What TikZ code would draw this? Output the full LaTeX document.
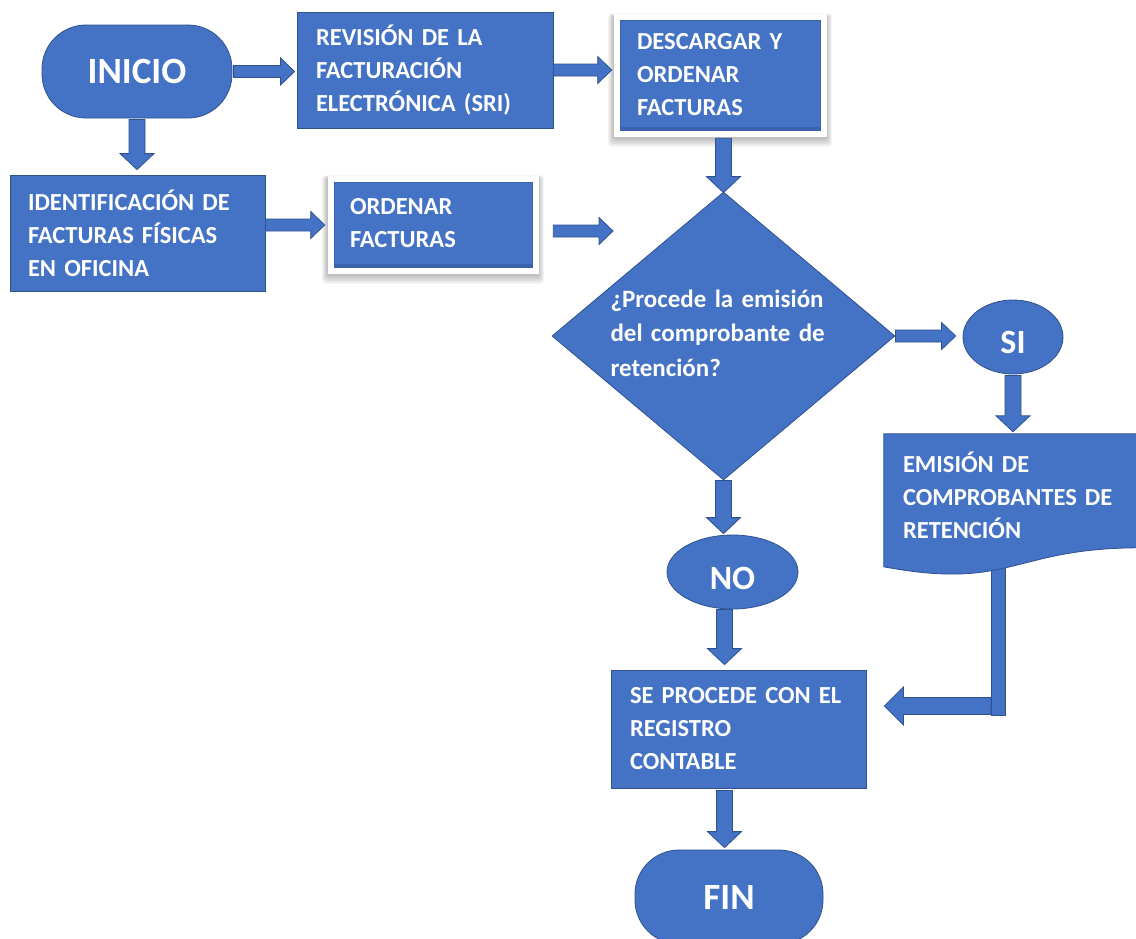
\documentclass[tikz,border=0pt]{standalone}
\usepackage{fontspec}
\setmainfont{Carlito}
\usetikzlibrary{shapes.geometric,calc}
\definecolor{boxblue}{HTML}{4472C4}
\definecolor{edgeblue}{HTML}{2F528F}
\definecolor{bevelcol}{HTML}{3A62AE}
\pgfdeclarelayer{bg}
\pgfsetlayers{bg,main}
\newcommand{\softshadow}[1]{%
  \begin{pgfonlayer}{bg}
    \foreach \i in {0,1.5,...,7.5}{
      \fill[black, opacity=0.045, rounded corners=3pt]
        ($(#1.south west)+(-7-\i*0.6,-9-\i)$) rectangle ($(#1.north east)+(7+\i*0.6,4+\i*0.3)$);
    }
  \end{pgfonlayer}}
\begin{document}
\begin{tikzpicture}[x=1pt,y=1pt,line join=miter,
  boxtext/.style={font=\fontsize{24.5}{33}\selectfont\bfseries, text=white, align=left, inner ysep=0pt},
  plain/.style={boxtext, rectangle, fill=boxblue, draw=edgeblue, line width=0.8pt},
  framed/.style={boxtext, rectangle, fill=boxblue, draw=bevelcol, line width=0.6pt,
    preaction={draw=white, line width=13pt},
    path picture={\fill[bevelcol] (path picture bounding box.south west) rectangle ([yshift=3pt]path picture bounding box.south east);}},
  term/.style={rectangle, rounded corners=44pt, fill=boxblue, draw=edgeblue, line width=0.8pt, text=white, font=\fontsize{37}{40}\selectfont\bfseries, inner sep=0pt},
  oval/.style={ellipse, fill=boxblue, draw=edgeblue, line width=0.8pt, text=white, font=\fontsize{34}{36}\selectfont\bfseries, inner sep=0pt},
  decision/.style={diamond, fill=boxblue, draw=edgeblue, line width=0.8pt, inner sep=0pt},
  dectext/.style={font=\fontsize{25}{34.5}\selectfont\bfseries, text=white, align=left, text width=218pt, inner sep=0pt},
  shapeedge/.style={fill=boxblue, draw=edgeblue, line width=0.8pt},
  bashape/.style n args={3}{draw=edgeblue, fill=boxblue, line width=0.8pt,
    to path={
      let \p1=(\tikztostart), \p2=(\tikztotarget),
          \n1={atan2(\y2-\y1,\x2-\x1)}, \n2={veclen(\x2-\x1,\y2-\y1)} in
      ($(\p1)+(\n1+90:#1)$) -- ($(\p1)+(\n1:\n2-#3)+(\n1+90:#1)$) -- ($(\p1)+(\n1:\n2-#3)+(\n1+90:#2)$)
      -- (\p2) -- ($(\p1)+(\n1:\n2-#3)+(\n1-90:#2)$) -- ($(\p1)+(\n1:\n2-#3)+(\n1-90:#1)$)
      -- ($(\p1)+(\n1-90:#1)$) -- cycle}},
  harrow/.style={bashape={6pt}{13.5pt}{14pt}},
  varrow/.style={bashape={8pt}{17pt}{16pt}},
  larrow/.style={bashape={8.5pt}{19pt}{19pt}}
]
\useasboundingbox (0,0) rectangle (1136,-938);
\begin{pgfonlayer}{bg}
  \fill[white] (0,0) rectangle (1136,-938);
\end{pgfonlayer}

% nodes
\node[term, minimum width=190pt, minimum height=93pt] (inicio) at (137,-71.5) {INICIO};
\node[plain, minimum width=256pt, minimum height=116pt, inner xsep=19pt, text width=218pt] (rev) at (425,-70)
  {REVISIÓN DE LA\\FACTURACIÓN\\ELECTRÓNICA (SRI)};
\node[framed, minimum width=200pt, minimum height=110pt, inner xsep=17pt, text width=166pt] (desc) at (720,-75)
  {DESCARGAR Y\\ORDENAR\\FACTURAS};
\node[plain, minimum width=255pt, minimum height=116pt, inner xsep=18pt, text width=219pt] (ident) at (137.5,-233)
  {IDENTIFICACIÓN DE\\FACTURAS FÍSICAS\\EN OFICINA};
\node[framed, minimum width=198pt, minimum height=85pt, inner xsep=16pt, text width=166pt] (ord) at (433,-224.5)
  {\raisebox{4pt}{ORDENAR}\\\raisebox{4pt}{FACTURAS}};
\softshadow{desc}
\softshadow{ord}
\node[decision, minimum width=343pt, minimum height=288pt,
  label={[dectext, xshift=-4pt, yshift=3pt]center:{¿Procede la emisión\\del comprobante de\\retención?}}] (dec) at (723.5,-336) {};
\node[oval, minimum width=100pt, minimum height=74pt] (si) at (1013,-337) {\raisebox{-16pt}[0pt][0pt]{SI}};
\node[boxtext, rectangle, minimum width=256pt, minimum height=122pt, inner xsep=19pt, text width=218pt] (emi) at (1012,-495)
  {EMISIÓN DE\\COMPROBANTES DE\\RETENCIÓN};
\node[oval, minimum width=131pt, minimum height=74pt] (no) at (732.5,-572) {\raisebox{-17pt}[0pt][0pt]{NO}};
\node[plain, minimum width=255pt, minimum height=118pt, inner xsep=19pt, text width=217pt] (seproc) at (738.5,-729)
  {SE PROCEDE CON EL\\REGISTRO\\CONTABLE};
\node[term, minimum width=188pt, minimum height=94pt] (fin) at (729,-897) {FIN};

% document shape and its connector (background)
\coordinate (lturn) at (998,-706);
\begin{pgfonlayer}{bg}
  \draw[larrow] ([xshift=-7pt]lturn) to ([xshift=18pt]seproc.east |- lturn);
  \draw[shapeedge] ([xshift=-7pt]lturn |- emi.south) rectangle ([xshift=7pt,yshift=-9pt]lturn);
  \draw[shapeedge] (emi.north west) -- (emi.north east) -- ($(emi.north east)+(0,-114)$)
    .. controls ($(emi.north)+(0,-114)$) and ($(emi.north)+(0,-157)$) .. ($(emi.north west)+(0,-133)$) -- cycle;
\end{pgfonlayer}

% connectors
\coordinate (ordend) at (613,-231);
\draw[harrow] ([xshift=1pt]inicio.east) to ([xshift=-2pt]inicio.east -| rev.west);
\draw[harrow] (rev.east) to ([xshift=-8pt]rev.east -| desc.west);
\draw[varrow] ([yshift=-1pt]inicio.south) to ([yshift=5pt]inicio.south |- ident.north);
\draw[harrow] ([yshift=8pt]ident.east) to ([xshift=-9pt,yshift=8pt]ident.east -| ord.west);
\draw[harrow] ([xshift=21pt]ord.east |- ordend) to (ordend);
\draw[varrow] ([yshift=-8pt]dec.north |- desc.south) to ([yshift=-1pt]dec.north);
\draw[harrow] (dec.east) to ([xshift=-7pt]dec.east -| si.west);
\draw[varrow] ([yshift=-1pt]si.south) to ([yshift=2pt]si.south |- emi.north);
\draw[varrow] (dec.south) to ([yshift=1pt]dec.south |- no.north);
\draw[varrow] ([xshift=-8pt]no.south) to ([xshift=-8pt,yshift=5pt]no.south |- seproc.north);
\draw[varrow] ([xshift=-14pt,yshift=-2pt]seproc.south) to ([xshift=-14pt,yshift=2pt]seproc.south |- fin.north);
\end{tikzpicture}
\end{document}
